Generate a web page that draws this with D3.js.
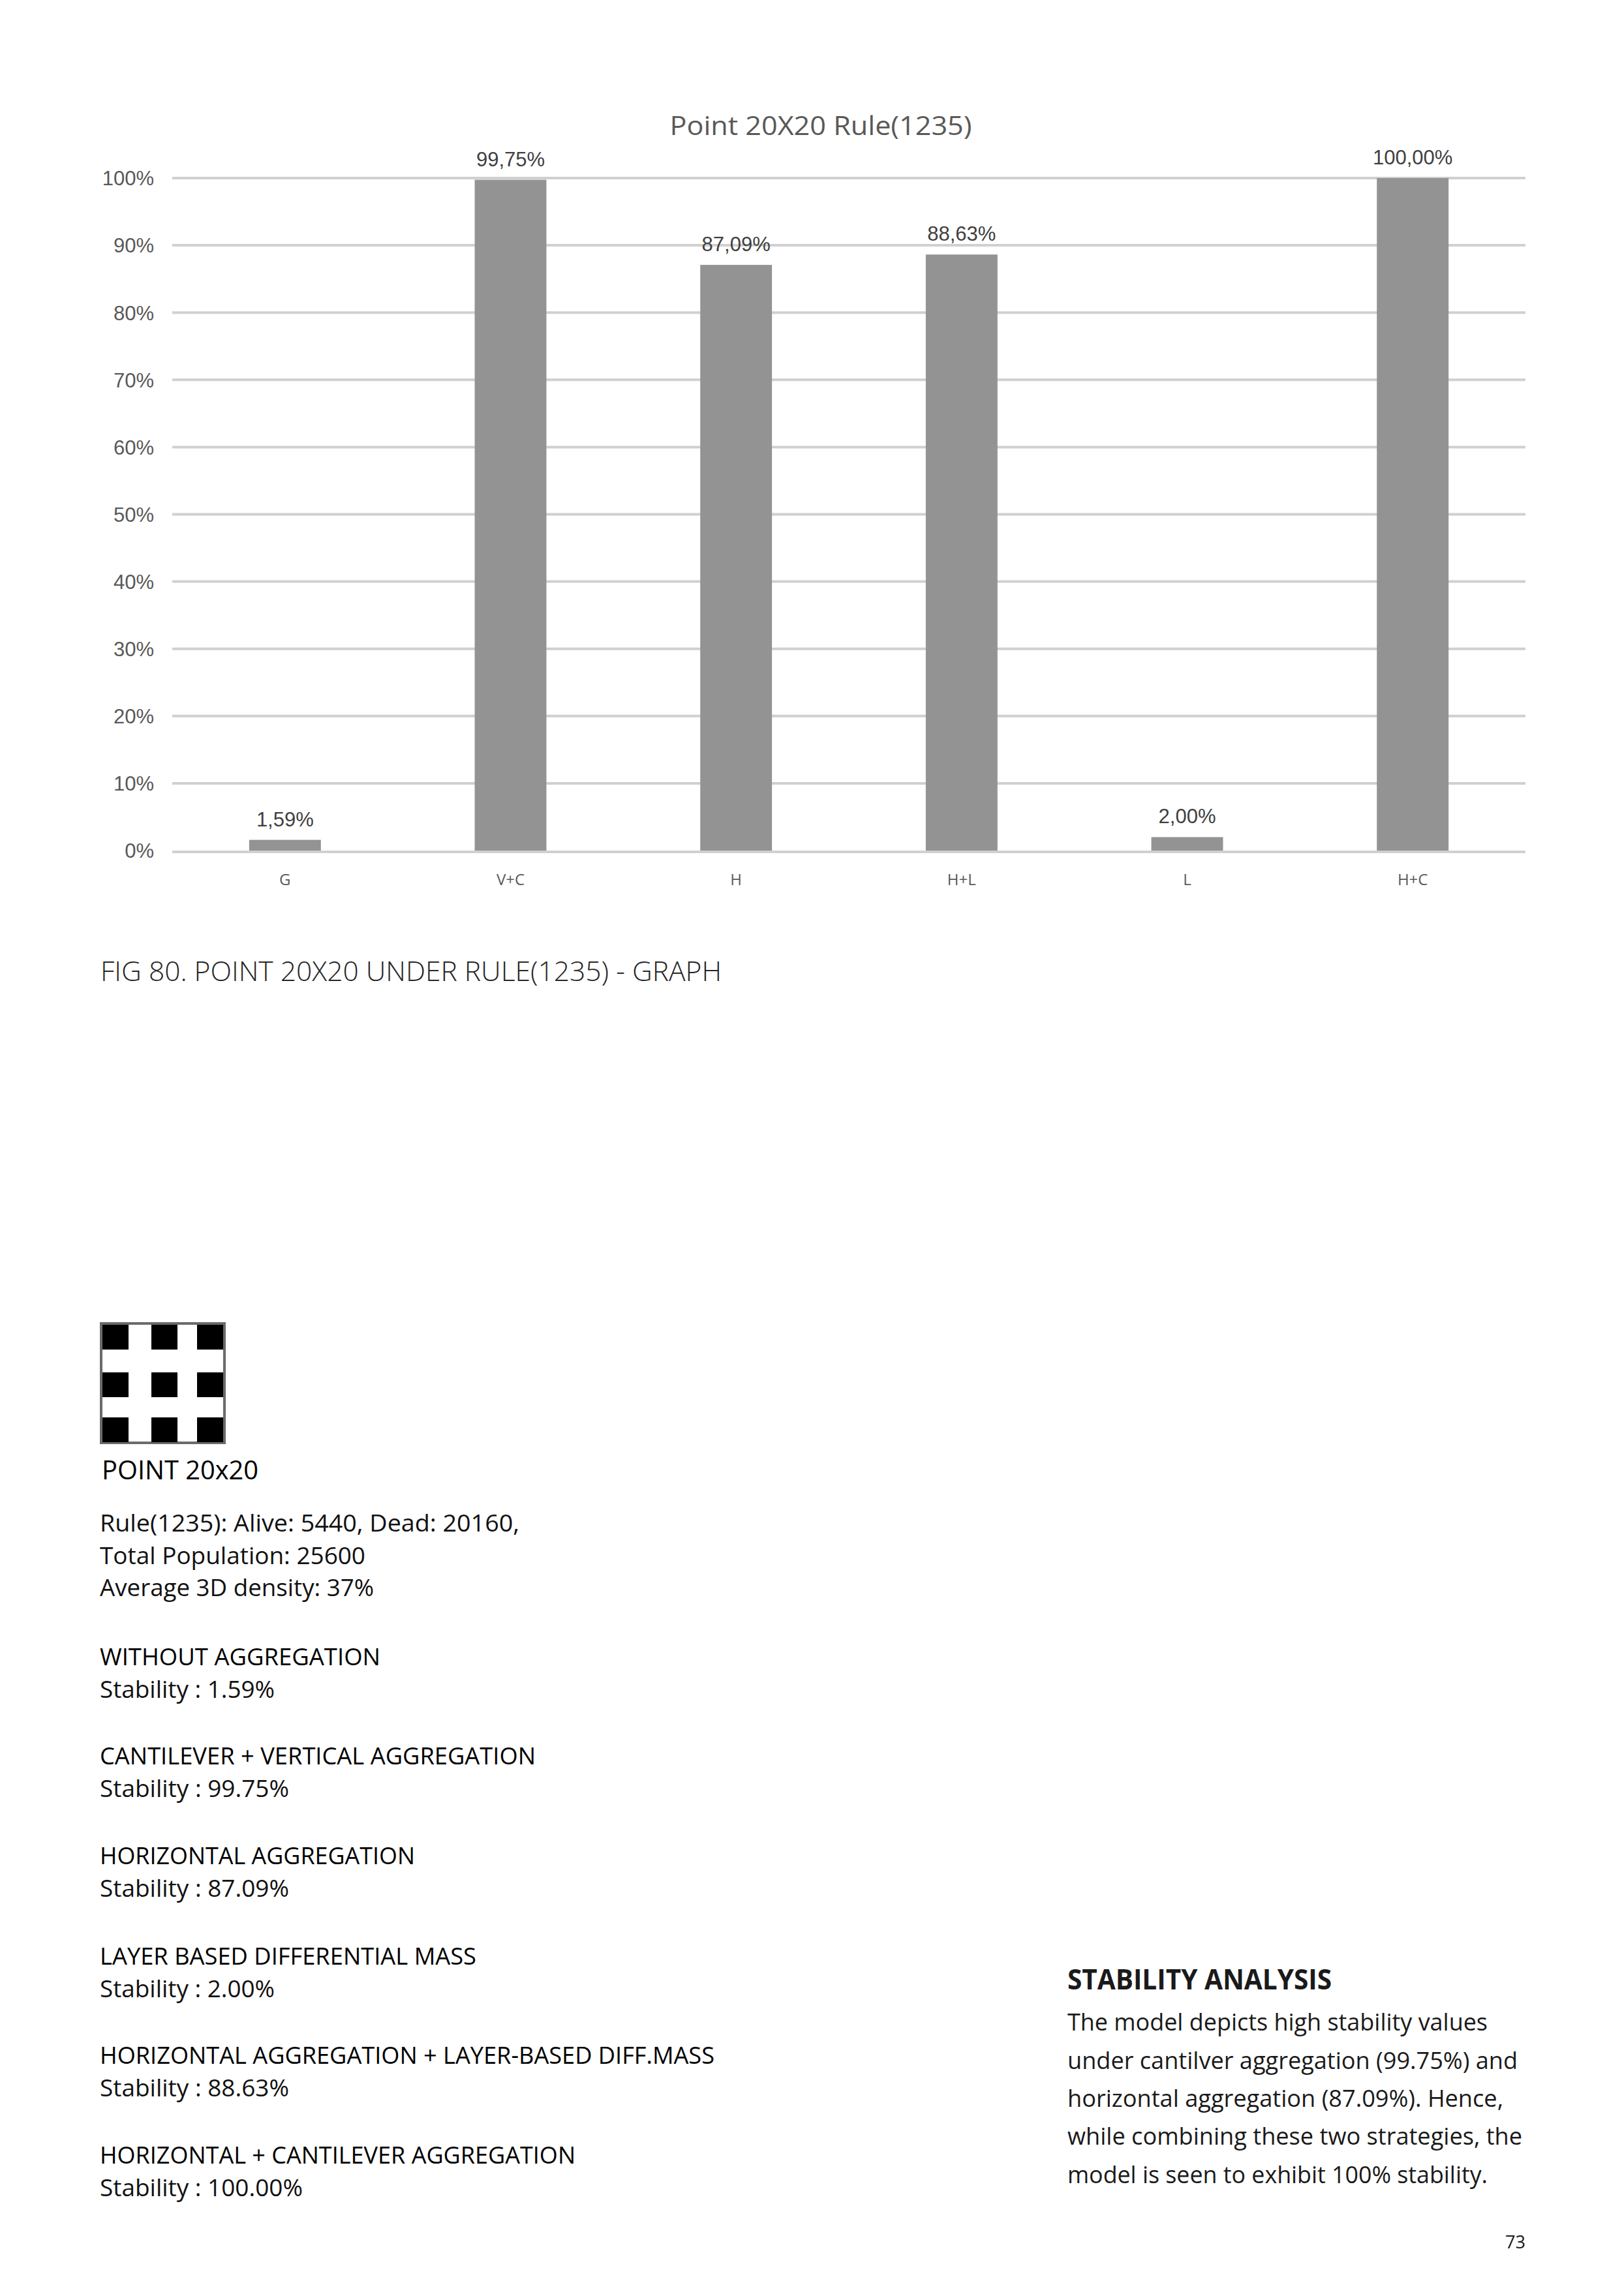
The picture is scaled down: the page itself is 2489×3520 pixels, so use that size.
<!DOCTYPE html>
<html>
<head>
<meta charset="utf-8">
<script src="https://cdn.jsdelivr.net/npm/d3@7"></script>
<style>
  html, body { margin: 0; padding: 0; background: #ffffff; }
  svg { display: block; }
</style>
</head>
<body>
<script>
// ---------------- DATA ----------------
const chartTitle = "Point 20X20 Rule(1235)";
const categories = ["G", "V+C", "H", "H+L", "L", "H+C"];
const values = [1.59, 99.75, 87.09, 88.63, 2.00, 100.00];
const yTicks = [0, 10, 20, 30, 40, 50, 60, 70, 80, 90, 100];
const caption = "FIG 80. POINT 20X20 UNDER RULE(1235) - GRAPH";
const iconTitle = "POINT 20x20";
const infoLines = [
  "Rule(1235): Alive: 5440, Dead: 20160,",
  "Total Population:  25600",
  "Average 3D density: 37%"
];
const sectionHeads = [
  "WITHOUT AGGREGATION",
  "CANTILEVER + VERTICAL AGGREGATION",
  "HORIZONTAL AGGREGATION",
  "LAYER BASED DIFFERENTIAL MASS",
  "HORIZONTAL AGGREGATION + LAYER-BASED DIFF.MASS",
  "HORIZONTAL + CANTILEVER AGGREGATION"
];
const sectionValues = ["1.59%", "99.75%", "87.09%", "2.00%", "88.63%", "100.00%"];
const analysisTitle = "STABILITY ANALYSIS";
const analysisLines = [
  "The model depicts high stability values",
  "under cantilver aggregation (99.75%) and",
  "horizontal aggregation (87.09%). Hence,",
  "while combining these two strategies, the",
  "model is seen to exhibit 100% stability."
];
const pageNumber = "73";

// ---------------- LAYOUT ----------------
const W = 2489, H = 3520;
const svg = d3.select("body").append("svg")
  .attr("width", W).attr("height", H)
  .attr("viewBox", `0 0 ${W} ${H}`);
svg.append("rect").attr("width", W).attr("height", H).attr("fill", "#ffffff");

const calibri = "'Open Sans', 'Noto Sans', sans-serif";
const arial = "'Liberation Sans', Arial, sans-serif";

function fit(sel, w) {
  sel.attr("textLength", w).attr("lengthAdjust", "spacingAndGlyphs");
  return sel;
}

// ---------------- CHART ----------------
const plotL = 264, plotR = 2338, plotT = 273, plotB = 1304;
const x = d3.scaleBand().domain(categories).range([plotL, plotR])
  .paddingInner(0.682).paddingOuter(0.341);
const y = d3.scaleLinear().domain([0, 100]).range([plotB, plotT]);

const commaLocale = d3.formatLocale({ decimal: ",", thousands: ".", grouping: [3], currency: ["", ""] });
const fmtVal = v => commaLocale.format(".2f")(v) + "%";

// title
fit(svg.append("text")
  .attr("x", 1258).attr("y", 207)
  .attr("text-anchor", "middle")
  .attr("font-family", calibri).attr("font-weight", 400)
  .attr("font-size", 40).attr("fill", "#595959")
  .text(chartTitle), 463);

// gridlines (non-zero)
const grid = svg.append("g");
grid.selectAll("line").data(yTicks.filter(d => d !== 0)).join("line")
  .attr("x1", plotL).attr("x2", plotR)
  .attr("y1", d => y(d)).attr("y2", d => y(d))
  .attr("stroke", "#d0d0d0").attr("stroke-width", 4);

// y axis labels via d3 axis
const yAxis = d3.axisLeft(y).tickValues(yTicks).tickFormat(d => d + "%").tickSize(0).tickPadding(0);
const yg = svg.append("g").attr("transform", `translate(236,0)`).call(yAxis);
yg.select(".domain").remove();
yg.selectAll("text")
  .attr("font-family", arial).attr("font-size", 31)
  .attr("fill", "#595959").attr("dy", "0.35em").attr("x", 0)
  .attr("text-anchor", "end");

// bars
svg.append("g").selectAll("rect").data(values).join("rect")
  .attr("x", (d, i) => x(categories[i]))
  .attr("width", x.bandwidth())
  .attr("y", d => y(d))
  .attr("height", d => y(0) - y(d))
  .attr("fill", "#939393");

// zero line on top
svg.append("line")
  .attr("x1", plotL).attr("x2", plotR)
  .attr("y1", y(0) + 2).attr("y2", y(0) + 2)
  .attr("stroke", "#d0d0d0").attr("stroke-width", 4);

// value labels
svg.append("g").selectAll("text").data(values).join("text")
  .attr("x", (d, i) => x(categories[i]) + x.bandwidth() / 2)
  .attr("y", d => y(d) - 21)
  .attr("text-anchor", "middle")
  .attr("font-family", arial).attr("font-size", 31)
  .attr("fill", "#404040")
  .text(d => fmtVal(d));

// x axis labels via d3 axis
const xAxis = d3.axisBottom(x).tickSize(0).tickPadding(0);
const xg = svg.append("g").attr("transform", `translate(0,1357)`).call(xAxis);
xg.select(".domain").remove();
xg.selectAll("text")
  .attr("font-family", calibri).attr("font-size", 24)
  .attr("fill", "#595959").attr("dy", 0).attr("y", 0);

// caption
fit(svg.append("text")
  .attr("x", 154).attr("y", 1504)
  .attr("font-family", calibri).attr("font-weight", 300)
  .attr("font-size", 42).attr("fill", "#262626")
  .text(caption), 952);

// ---------------- ICON ----------------
svg.append("rect")
  .attr("x", 155).attr("y", 2029).attr("width", 189).attr("height", 183)
  .attr("fill", "#ffffff").attr("stroke", "#6b6b6b").attr("stroke-width", 4);
const iconCols = [157, 232, 302], iconRows = [2031, 2104, 2173];
const iconCells = [];
iconRows.forEach(r => iconCols.forEach(c => iconCells.push([c, r])));
svg.append("g").selectAll("rect").data(iconCells).join("rect")
  .attr("x", d => d[0]).attr("y", d => d[1])
  .attr("width", 40).attr("height", 38)
  .attr("fill", "#000000");

fit(svg.append("text")
  .attr("x", 156).attr("y", 2268)
  .attr("font-family", calibri).attr("font-weight", 400)
  .attr("font-size", 41).attr("fill", "#000000")
  .text(iconTitle), 240);

// ---------------- INFO TEXT ----------------
const infoBase = [2348, 2398, 2447];
const infoW = [643, 407, 420];
infoLines.forEach((t, i) => {
  fit(svg.append("text")
    .attr("x", 153).attr("y", infoBase[i])
    .attr("font-family", calibri).attr("font-weight", 400)
    .attr("font-size", 36).attr("fill", "#111111")
    .text(t), infoW[i]);
});

const headBase = [2553, 2705, 2858, 3012, 3164, 3317];
const headW = [430, 668, 483, 577, 942, 729];
const valW = [268, 290, 290, 268, 290, 311];
sectionHeads.forEach((t, i) => {
  fit(svg.append("text")
    .attr("x", 153).attr("y", headBase[i])
    .attr("font-family", calibri).attr("font-weight", 400)
    .attr("font-size", 37).attr("fill", "#000000")
    .text(t), headW[i]);
  fit(svg.append("text")
    .attr("x", 153).attr("y", headBase[i] + 50)
    .attr("font-family", calibri).attr("font-weight", 400)
    .attr("font-size", 36).attr("fill", "#111111")
    .text("Stability : " + sectionValues[i]), valW[i]);
});

// ---------------- STABILITY ANALYSIS ----------------
fit(svg.append("text")
  .attr("x", 1636).attr("y", 3050)
  .attr("font-family", calibri).attr("font-weight", 700)
  .attr("font-size", 43).attr("fill", "#1a1a1a")
  .text(analysisTitle), 405);

const anBase = [3113, 3172, 3230, 3288, 3347];
const anW = [644, 690, 668, 697, 644];
analysisLines.forEach((t, i) => {
  fit(svg.append("text")
    .attr("x", 1636).attr("y", anBase[i])
    .attr("font-family", calibri).attr("font-weight", 400)
    .attr("font-size", 37).attr("fill", "#1a1a1a")
    .text(t), anW[i]);
});

// page number
svg.append("text")
  .attr("x", 2338).attr("y", 3447)
  .attr("text-anchor", "end")
  .attr("font-family", calibri).attr("font-weight", 400)
  .attr("font-size", 27).attr("fill", "#1a1a1a")
  .text(pageNumber);
</script>
</body>
</html>
